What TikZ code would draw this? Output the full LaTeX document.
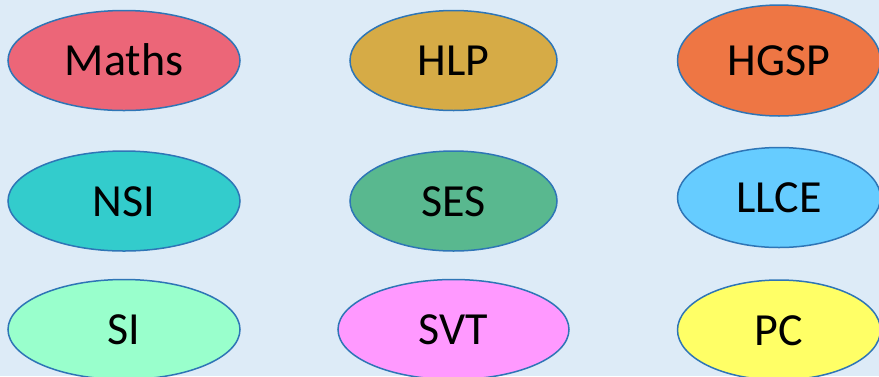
\documentclass[tikz,border=0pt]{standalone}
\usepackage{fontspec}
\setmainfont{Carlito}
\usetikzlibrary{shapes.geometric}
\definecolor{bgblue}{RGB}{221,235,247}
\definecolor{rimblue}{RGB}{46,117,182}
\definecolor{mathsred}{RGB}{236,102,120}
\definecolor{hlpgold}{RGB}{214,171,70}
\definecolor{hgsporange}{RGB}{238,118,68}
\definecolor{nsiteal}{RGB}{51,204,204}
\definecolor{sesgreen}{RGB}{89,184,143}
\definecolor{llceblue}{RGB}{102,204,255}
\definecolor{simint}{RGB}{153,255,204}
\definecolor{svtpink}{RGB}{255,153,255}
\definecolor{pcyellow}{RGB}{255,255,102}

\begin{document}
\begin{tikzpicture}[x=1bp, y=-1bp,
	subj/.style={ellipse, draw=rimblue, line width=1.5bp, inner sep=0pt,
		font=\fontsize{46bp}{50bp}\selectfont, text height=30bp, text depth=0pt}]
			%%%%% START %%%%%
			
			\useasboundingbox (0, 0) rectangle (879, 376);
			\fill[bgblue] (0, 0) rectangle (879, 376);
			
			\node[subj, fill=mathsred, minimum width=232bp, minimum height=100bp] (maths) at (124, 60.5) {Maths};
			\node[subj, fill=hlpgold, minimum width=207bp, minimum height=100bp] (hlp) at (453.5, 60.5) {HLP};
			\node[subj, fill=hgsporange, minimum width=203bp, minimum height=111bp] (hgsp) at (779, 60.5) {HGSP};
			
			\node[subj, fill=nsiteal, minimum width=232bp, minimum height=100bp] (nsi) at (124, 201) {NSI};
			\node[subj, fill=sesgreen, minimum width=207bp, minimum height=100bp] (ses) at (453.5, 201) {SES};
			\node[subj, fill=llceblue, minimum width=203bp, minimum height=100bp] (llce) at (779, 197.5) {LLCE};
			
			\node[subj, fill=simint, minimum width=232bp, minimum height=100bp] (si) at (124, 329.5) {SI};
			\node[subj, fill=svtpink, minimum width=231bp, minimum height=100bp] (svt) at (453.5, 329.5) {SVT};
			\node[subj, fill=pcyellow, minimum width=203bp, minimum height=100bp] (pc) at (779, 330) {PC};
			
			%%%%% END %%%%%
\end{tikzpicture}
\end{document}
